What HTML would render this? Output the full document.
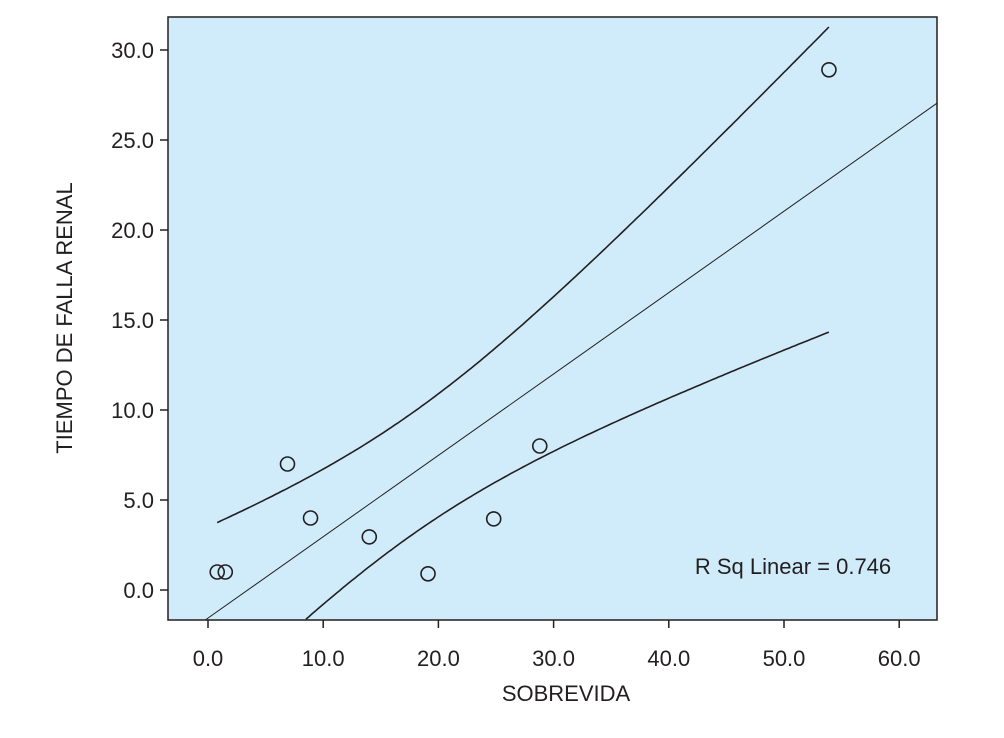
<!DOCTYPE html>
<html><head><meta charset="utf-8"><style>
html,body{margin:0;padding:0;background:#fff;}
svg text{font-family:"Liberation Sans",sans-serif;fill:#231f20;}
</style></head><body>
<svg id="chart" width="1004" height="733" viewBox="0 0 1004 733" xmlns="http://www.w3.org/2000/svg">
<rect x="168" y="17" width="769" height="603" fill="#d0ecfb" stroke="#231f20" stroke-width="1.5"/>
<g id="axes"></g>
<g id="marks"></g>
<text x="793" y="574" font-size="22" text-anchor="middle">R Sq Linear = 0.746</text>
<text x="566" y="701" font-size="22" text-anchor="middle">SOBREVIDA</text>
<text transform="translate(72,318) rotate(-90)" font-size="22" text-anchor="middle">TIEMPO DE FALLA RENAL</text>
</svg>
<script>
const xValues=[0.8,1.5,6.9,8.9,14,19.1,24.8,28.8,53.9];
const yValues=[1,1,7,4,2.95,0.9,3.95,8,28.9];
const xTicks=[0,10,20,30,40,50,60];
const yTicks=[0,5,10,15,20,25,30];
const NS="http://www.w3.org/2000/svg";
const L=168,R=937,T=17,B=620;
const sx=v=>208+v*11.52;
const sy=v=>590-v*18;
const ax=document.getElementById('axes'),mk=document.getElementById('marks');
function mkEl(t,a,p){const e=document.createElementNS(NS,t);for(const k in a)e.setAttribute(k,a[k]);p.appendChild(e);return e;}
xTicks.forEach(v=>{
 const l=mkEl('line',{x1:sx(v),x2:sx(v),y1:B,y2:B+8,stroke:'#231f20','stroke-width':1.5},ax);
 
 
 const t=mkEl('text',{x:sx(v),y:B+46,'font-size':22,'text-anchor':'middle'},ax);
 t.textContent=v.toFixed(1);
 
 
});
yTicks.forEach(v=>{
 const l=mkEl('line',{x1:L-8,x2:L,y1:sy(v),y2:sy(v),stroke:'#231f20','stroke-width':1.5},ax);
 
 
 const t=mkEl('text',{x:L-14,y:sy(v)+8,'font-size':22,'text-anchor':'end'},ax);
 t.textContent=v.toFixed(1);
 
 
});
const n=xValues.length;
const mx=xValues.reduce((a,b)=>a+b)/n,my=yValues.reduce((a,b)=>a+b)/n;
let sxx=0,sxy=0,syy=0;
for(let i=0;i<n;i++){sxx+=(xValues[i]-mx)**2;sxy+=(xValues[i]-mx)*(yValues[i]-my);syy+=(yValues[i]-my)**2;}
const b=sxy/sxx,a=my-b*mx;
const s=Math.sqrt((syy-b*sxy)/(n-2)),tval=2.1;
const xl=(L-208)/11.52,xr=(R-208)/11.52;
let x0=xl,x1=xr;
const yb=(590-B)/18;
if(a+b*x0<yb)x0=(yb-a)/b;
const fit=mkEl('line',{x1:sx(x0),y1:sy(a+b*x0),x2:sx(x1),y2:sy(a+b*x1),stroke:'#231f20','stroke-width':1},mk);


const xs=Math.min(...xValues),xe=Math.max(...xValues);
['upper','lower'].forEach((nm,k)=>{
 let d='';let started=false;
 for(let i=0;i<=200;i++){
  const x=xs+(xe-xs)*i/200;
  const se=s*Math.sqrt(1/n+(x-mx)**2/sxx);
  const y=a+b*x+(k?-1:1)*tval*se;
  if(y<yb)continue;
  d+=(started?'L':'M')+sx(x).toFixed(1)+','+sy(y).toFixed(1);started=true;
 }
 const p=mkEl('path',{d:d,fill:'none',stroke:'#231f20','stroke-width':1.6},mk);
 
 
});
for(let i=0;i<n;i++){
 const c=mkEl('circle',{cx:sx(xValues[i]),cy:sy(yValues[i]),r:7,fill:'none',stroke:'#231f20','stroke-width':1.6},mk);
 
 
}
</script>
</body></html>
